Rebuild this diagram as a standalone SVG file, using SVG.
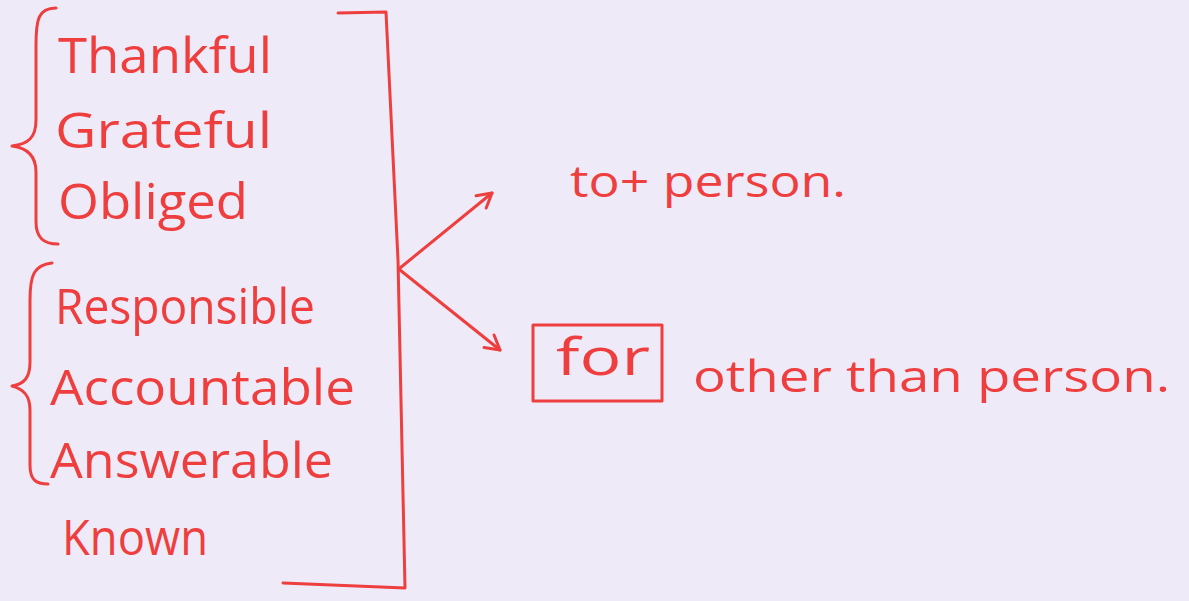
<svg xmlns="http://www.w3.org/2000/svg" width="1189" height="601" viewBox="0 0 1189 601">
<defs>
<style>
.ink{fill:none;stroke:#EE3E3E;stroke-width:3;stroke-linecap:round;stroke-linejoin:round}
.t{fill:#EE3E3E;font-family:"Open Sans","Liberation Sans",sans-serif;font-size:50px}
.s{font-size:44px}
.f{font-size:52px}
</style>
<marker id="ah" viewBox="0 0 20 20" refX="17" refY="10" markerWidth="20" markerHeight="20" markerUnits="userSpaceOnUse" orient="auto">
<path d="M3,2 L17,10 L3,18" fill="none" stroke="#EE3E3E" stroke-width="3" stroke-linecap="round" stroke-linejoin="round"/>
</marker>
</defs>
<rect width="1189" height="601" fill="#EEEAF8"/>
<g id="group1">
<path class="ink" d="M56,8 C38,8 36,20 36,45 L36,120 C36,138 28,144 12,146 C28,148 36,156 36,172 L36,222 C36,238 44,244 58,244"/>
<text class="t" x="58" y="73" textLength="214" lengthAdjust="spacingAndGlyphs">Thankful</text>
<text class="t" x="55" y="148" textLength="217" lengthAdjust="spacingAndGlyphs">Grateful</text>
<text class="t" x="58" y="219" textLength="190" lengthAdjust="spacingAndGlyphs">Obliged</text>
</g>
<g id="group2">
<path class="ink" d="M52,263 C34,265 30,275 30,300 L30,362 C30,378 24,384 12,386 C24,389 30,396 30,410 L30,465 C30,480 36,484 48,484"/>
<text class="t" x="55" y="324" textLength="260" lengthAdjust="spacingAndGlyphs">Responsible</text>
<text class="t" x="50" y="405" textLength="305" lengthAdjust="spacingAndGlyphs">Accountable</text>
<text class="t" x="50" y="478" textLength="283" lengthAdjust="spacingAndGlyphs">Answerable</text>
</g>
<g id="known">
<text class="t" x="62" y="555" textLength="146" lengthAdjust="spacingAndGlyphs">Known</text>
</g>
<g id="connectors">
<path class="ink" d="M338,13 L386,12 L398,260 L405,588 L283,583"/>
<path class="ink" d="M400,268 L492,193" marker-end="url(#ah)"/>
<path class="ink" d="M400,270 L500,350" marker-end="url(#ah)"/>
</g>
<g id="to-person">
<text class="t s" x="570" y="197" textLength="276" lengthAdjust="spacingAndGlyphs">to+ person.</text>
</g>
<g id="for-box">
<rect class="ink" x="533" y="325" width="129" height="76"/>
<text class="t f" x="556" y="375" textLength="94" lengthAdjust="spacingAndGlyphs">for</text>
</g>
<g id="other-than-person">
<text class="t s" x="693" y="392" textLength="477" lengthAdjust="spacingAndGlyphs">other than person.</text>
</g>
</svg>
